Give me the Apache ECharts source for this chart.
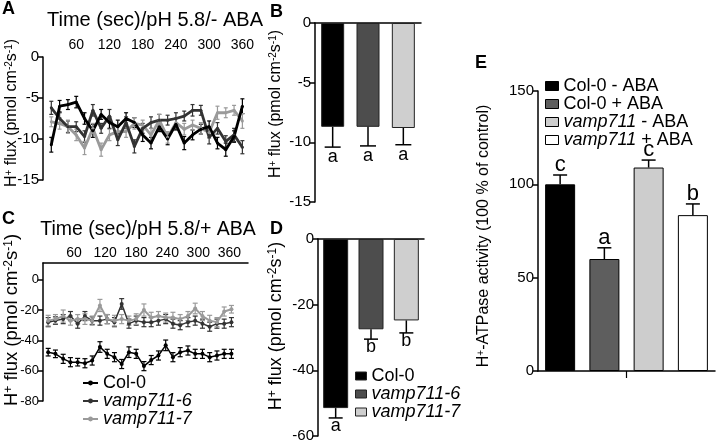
<!DOCTYPE html>
<html><head><meta charset="utf-8">
<script src="https://cdn.jsdelivr.net/npm/echarts@6/dist/echarts.min.js"></script>
<style>html,body{margin:0;padding:0;background:#fff}#c{width:717px;height:442px}</style>
</head><body><div id="c"></div>
<script>
// ---------------- DATA ----------------
const genotypes = ['Col-0', 'vamp711-6', 'vamp711-7'];
// Panel A: time course, pH 5.8 / - ABA
const timeA = [15,30,45,60,75,90,105,120,135,150,165,180,195,210,225,240,255,270,285,300,315,330,345,360];
const fluxA_col0 = [-10.7,-6.0,-5.8,-5.5,-7.5,-9.0,-7.0,-8.0,-8.5,-7.5,-8.0,-9.5,-10.5,-8.5,-10.0,-8.2,-10.5,-9.5,-8.8,-8.5,-10.5,-11.3,-9.7,-6.0];
const fluxA_v6   = [-6.2,-7.5,-8.5,-8.5,-9.7,-6.5,-8.7,-7.2,-10.1,-8.0,-10.9,-8.7,-8.0,-7.7,-7.7,-7.5,-7.2,-6.5,-6.5,-9.8,-8.7,-10.3,-9.5,-11.0];
const fluxA_v7   = [-7.9,-8.1,-8.5,-9.5,-11.1,-8.7,-11.3,-9.5,-9.1,-9.1,-8.1,-8.3,-9.5,-7.7,-9.8,-8.0,-8.8,-8.3,-8.7,-9.2,-6.8,-6.8,-6.5,-7.8];
const errA_col0  = [0.9,0.7,0.6,0.7,0.7,0.8,0.6,0.7,0.8,0.7,0.6,0.8,0.7,0.6,0.7,0.7,0.8,0.6,0.6,0.7,0.7,0.8,0.7,0.9];
const errA_v6    = [0.8,0.7,0.7,0.6,0.7,0.7,0.6,0.8,0.7,0.7,0.8,0.6,0.7,0.7,0.6,0.7,0.6,0.7,0.6,0.8,0.7,0.7,0.8,0.8];
const errA_v7    = [0.6,0.7,0.8,0.7,0.8,0.6,0.8,0.7,0.6,0.7,0.7,0.6,0.8,0.7,0.7,0.6,0.7,0.6,0.7,0.7,0.8,0.6,0.6,0.9];
// Panel B: mean flux - ABA
const fluxB = [-8.7, -8.7, -8.8];
const errB  = [1.7, 1.6, 1.4];
const lettersB = ['a', 'a', 'a'];
// Panel C: time course, pH 5.8 / + ABA
const timeC = [10,24,39,53,67,81,95,110,124,138,152,166,180,195,209,223,237,251,265,280,294,308,322,336,350,364];
const fluxC_col0 = [-47.8,-48.9,-52.2,-54.4,-54.4,-55.1,-53.3,-44.4,-48.9,-51.1,-55.6,-47.8,-48.9,-57.0,-53.0,-50.0,-43.3,-51.1,-47.8,-46.7,-48.9,-48.9,-51.1,-50.0,-48.9,-48.9];
const fluxC_v6   = [-28,-27,-26,-24,-29,-24,-27,-27,-26,-28,-16,-29,-27,-28,-28,-27,-26,-29,-30,-28,-27,-29,-31,-29,-29,-28];
const fluxC_v7   = [-27,-26,-24,-27,-26,-26,-27,-17,-26,-27,-26,-27,-26,-20,-25,-24,-25,-25,-26,-24,-19,-24,-27,-28,-21,-19.5];
const errC_col0  = [2.5,2.5,3,3,2.5,3,3,3.5,3,3,3,3.5,3,3,3,3,3.5,3,3,3,3,3,3,3,3,3];
const errC_v6    = [3,2.5,3,3,3,3,2.5,3,3,3,3.5,3,3,3,3,3,3,3,3,3,3,3,3,3,3,3];
const errC_v7    = [3.5,3,4,3,3,3.5,3,4,3,3.5,3,3,3.5,4,3.5,3,3,3.5,3,3,3.5,3,3.5,3,3,2.5];
// Panel D: mean flux + ABA
const fluxD = [-51.5, -27.5, -24.8];
const errD  = [3.0, 3.0, 3.8];
const lettersD = ['a', 'b', 'b'];
// Panel E: H+-ATPase activity
const treatmentsE = ['Col-0 - ABA', 'Col-0 + ABA', 'vamp711 - ABA', 'vamp711 + ABA'];
const activityE = [100, 60, 109, 83.5];
const errE = [5, 6, 4, 6];
const lettersE = ['c', 'a', 'c', 'b'];
// tick labels
const ticksTime = [60, 120, 180, 240, 300, 360];
const ticksA = [0, -5, -10, -15];
const ticksC = [0, -20, -40, -60, -80];
const ticksD = [0, -20, -40, -60];
const ticksE = [0, 50, 100, 150];

// ---------------- STYLE ----------------
const FONT = '"Liberation Sans", Arial, Helvetica, sans-serif';
const INK = '#000';
const lineColors = ['#000000', '#333333', '#9a9a9a'];
const barColorsBD = ['#000000', '#4d4d4d', '#cfcfcf'];
const barColorsE = ['#000000', '#5e5e5e', '#cdcdcd', '#ffffff'];

const fluxName = '{n|H}{s|+}{n| flux (pmol cm}{s|-2}{n|s}{s|-1}{n|)}';
const atpName = '{n|H}{s|+}{n|-ATPase activity (100 % of control)}';
function axisTitle(text, x, y, size) {
  return {
    type: 'text', x, y, rotation: Math.PI / 2,
    style: {
      text, textAlign: 'center', textVerticalAlign: 'middle', fill: INK,
      font: size + 'px ' + FONT,
      rich: {
        n: { fill: INK, fontFamily: FONT, fontSize: size },
        s: { fill: INK, fontFamily: FONT, fontSize: Math.round(size * 0.65), verticalAlign: 'top' }
      }
    }
  };
}

function valueY(gridIndex, min, max, interval, ticks, fs) {
  return {
    type: 'value', gridIndex, min, max, interval,
    axisLine: { show: true, lineStyle: { color: INK, width: 1.5 } },
    axisTick: { show: true, length: 5, lineStyle: { color: INK, width: 1.5 }, customValues: ticks },
    axisLabel: { color: INK, fontFamily: FONT, fontSize: fs, margin: 4, customValues: ticks,
      formatter: v => ticks.indexOf(v) >= 0 ? String(v) : '' },
    splitLine: { show: false }
  };
}

function lineSeries(name, times, vals, color, axis, width, sym) {
  return {
    type: 'line', name, xAxisIndex: axis, yAxisIndex: axis, z: 4,
    data: times.map((t, i) => [t, vals[i]]),
    lineStyle: { color, width }, itemStyle: { color },
    symbol: 'circle', symbolSize: sym, showSymbol: true, silent: true
  };
}
function lineErr(name, times, vals, errs, color, axis, cap) {
  return {
    type: 'custom', name, xAxisIndex: axis, yAxisIndex: axis, z: 3, silent: true,
    data: times.map((t, i) => [t, vals[i] - errs[i], vals[i] + errs[i]]),
    renderItem(params, api) {
      const lo = api.coord([api.value(0), api.value(1)]);
      const hi = api.coord([api.value(0), api.value(2)]);
      const st = { stroke: color, lineWidth: 1.2 };
      return { type: 'group', children: [
        { type: 'line', shape: { x1: lo[0], y1: lo[1], x2: hi[0], y2: hi[1] }, style: st },
        { type: 'line', shape: { x1: lo[0] - cap, y1: lo[1], x2: lo[0] + cap, y2: lo[1] }, style: st },
        { type: 'line', shape: { x1: hi[0] - cap, y1: hi[1], x2: hi[0] + cap, y2: hi[1] }, style: st }
      ]};
    }
  };
}
function barSeries(names, vals, colors, axis, width, border) {
  return names.map((n, i) => ({
    type: 'bar', name: n, xAxisIndex: axis, yAxisIndex: axis, barWidth: width, barGap: '-100%', z: 2,
    data: vals.map((v, j) => j === i ? v : '-'),
    itemStyle: { color: colors[i], borderColor: border, borderWidth: 1 }, silent: true
  }));
}
function barErr(vals, errs, letters, axis, dir, cap, fs, letterGap, vAlign) {
  return {
    type: 'custom', xAxisIndex: axis, yAxisIndex: axis, z: 5, silent: true,
    data: vals.map((v, i) => [i, v, v + dir * errs[i]]),
    renderItem(params, api) {
      const p0 = api.coord([api.value(0), api.value(1)]);
      const p1 = api.coord([api.value(0), api.value(2)]);
      const st = { stroke: INK, lineWidth: 1.5 };
      return { type: 'group', children: [
        { type: 'line', shape: { x1: p0[0], y1: p0[1], x2: p1[0], y2: p1[1] }, style: st },
        { type: 'line', shape: { x1: p1[0] - cap, y1: p1[1], x2: p1[0] + cap, y2: p1[1] }, style: st },
        { type: 'text', x: p1[0], y: p1[1] + letterGap,
          style: { text: letters[params.dataIndex], fill: INK, font: fs + 'px ' + FONT,
                   textAlign: 'center', textVerticalAlign: vAlign } }
      ]};
    }
  };
}
const italicFmt = n => n.replace(/vamp711(-\d)?/, m => '{i|' + m + '}');
function legendText(size, lh) {
  return { color: INK, fontFamily: FONT, fontSize: size, lineHeight: lh,
    rich: { i: { color: INK, fontFamily: FONT, fontSize: size, lineHeight: lh, fontStyle: 'italic' } } };
}

// ---------------- OPTION ----------------
const option = {
  animation: false,
  backgroundColor: '#fff',
  textStyle: { fontFamily: FONT, color: INK },
  grid: [
    { left: 43, top: 57, width: 216, height: 123, outerBoundsMode: 'none' },   // A
    { left: 315, top: 23, width: 106, height: 179, outerBoundsMode: 'none' },  // B
    { left: 43, top: 263, width: 205, height: 138, outerBoundsMode: 'none' },  // C
    { left: 318, top: 239, width: 106, height: 197, outerBoundsMode: 'none' }, // D
    { left: 538, top: 91, width: 177, height: 280, outerBoundsMode: 'none' }   // E
  ],
  xAxis: [
    { type: 'value', gridIndex: 0, position: 'top', min: 0, max: 390, interval: 60,
      axisLine: { show: false }, axisTick: { show: false }, splitLine: { show: false },
      axisLabel: { color: INK, fontFamily: FONT, fontSize: 14, margin: 5, customValues: ticksTime,
        formatter: v => ticksTime.indexOf(v) >= 0 ? String(v) : '' } },
    { type: 'category', gridIndex: 1, position: 'top', data: genotypes,
      axisLine: { show: true, onZero: false, lineStyle: { color: INK, width: 1.5 } },
      axisTick: { show: false }, axisLabel: { show: false } },
    { type: 'value', gridIndex: 2, position: 'top', min: 0, max: 396, interval: 60,
      axisLine: { show: true, onZero: false, lineStyle: { color: INK, width: 1.5 } },
      axisTick: { show: false }, splitLine: { show: false },
      axisLabel: { color: INK, fontFamily: FONT, fontSize: 14, margin: 3, customValues: ticksTime,
        formatter: v => ticksTime.indexOf(v) >= 0 ? String(v) : '' } },
    { type: 'category', gridIndex: 3, position: 'top', data: genotypes,
      axisLine: { show: true, onZero: false, lineStyle: { color: INK, width: 1.5 } },
      axisTick: { show: false }, axisLabel: { show: false } },
    { type: 'category', gridIndex: 4, position: 'bottom', data: treatmentsE,
      axisLine: { show: true, onZero: false, lineStyle: { color: INK, width: 1.5 } },
      axisTick: { show: false }, axisLabel: { show: false } },
    { type: 'category', gridIndex: 4, position: 'bottom', data: ['H+-ATPase'],
      axisLine: { show: false }, axisLabel: { show: false },
      axisTick: { show: true, alignWithLabel: true, length: 7, lineStyle: { color: INK, width: 1.2 } } }
  ],
  yAxis: [
    valueY(0, -15, 0, 5, ticksA, 15),
    valueY(1, -15, 0, 5, ticksA, 15),
    valueY(2, -80, 11, 20, ticksC, 13),
    valueY(3, -60, 0, 20, ticksD, 15),
    valueY(4, 0, 150, 50, ticksE, 15)
  ],
  legend: [
    { left: 82, top: 374, orient: 'vertical', itemWidth: 15, itemHeight: 6, itemGap: 0, padding: 0,
      selectedMode: false, data: genotypes, textStyle: legendText(18, 15), formatter: italicFmt },
    { left: 355, top: 367, orient: 'vertical', itemWidth: 11, itemHeight: 8, itemGap: 0, padding: 0,
      selectedMode: false, textStyle: legendText(18, 16.5), formatter: italicFmt,
      data: genotypes.map((n, i) => ({ name: n, icon: 'rect',
        itemStyle: { color: barColorsBD[i], borderColor: '#222', borderWidth: 1 } })) },
    { left: 545, top: 77, orient: 'vertical', itemWidth: 13, itemHeight: 9, itemGap: 0, padding: 0,
      selectedMode: false, textStyle: legendText(18, 15.7), formatter: italicFmt,
      data: treatmentsE.map((n, i) => ({ name: n, icon: 'rect',
        itemStyle: { color: barColorsE[i], borderColor: '#000', borderWidth: 1 } })) }
  ],
  series: [
    // C lines first (legend C inherits their icons)
    lineSeries('Col-0', timeC, fluxC_col0, lineColors[0], 2, 1.5, 4),
    lineSeries('vamp711-6', timeC, fluxC_v6, lineColors[1], 2, 1.5, 4),
    lineSeries('vamp711-7', timeC, fluxC_v7, lineColors[2], 2, 2, 4),
    lineErr('Col-0', timeC, fluxC_col0, errC_col0, lineColors[0], 2, 2.5),
    lineErr('vamp711-6', timeC, fluxC_v6, errC_v6, lineColors[1], 2, 2.5),
    lineErr('vamp711-7', timeC, fluxC_v7, errC_v7, lineColors[2], 2, 2.5),
    // A lines
    lineSeries('vamp711-7', timeA, fluxA_v7, lineColors[2], 0, 2.8, 3),
    lineSeries('vamp711-6', timeA, fluxA_v6, lineColors[1], 0, 2.8, 3),
    lineSeries('Col-0', timeA, fluxA_col0, lineColors[0], 0, 2.8, 3),
    lineErr('Col-0', timeA, fluxA_col0, errA_col0, lineColors[0], 0, 2),
    lineErr('vamp711-6', timeA, fluxA_v6, errA_v6, lineColors[1], 0, 2),
    lineErr('vamp711-7', timeA, fluxA_v7, errA_v7, lineColors[2], 0, 2),
    // B bars
    ...barSeries(genotypes, fluxB, barColorsBD, 1, 23, '#222'),
    barErr(fluxB, errB, lettersB, 1, -1, 8, 18, 1, 'top'),
    // D bars
    ...barSeries(genotypes, fluxD, barColorsBD, 3, 25, '#222'),
    barErr(fluxD, errD, lettersD, 3, -1, 7, 18, -1, 'top'),
    // E bars
    ...barSeries(treatmentsE, activityE, barColorsE, 4, 30, '#000'),
    barErr(activityE, errE, lettersE, 4, 1, 7, 22, 1, 'bottom')
  ],
  graphic: [
    { type: 'text', x: 2, y: 9, style: { text: 'A', font: 'bold 18px ' + FONT, fill: INK, textVerticalAlign: 'middle' } },
    { type: 'text', x: 270, y: 12, style: { text: 'B', font: 'bold 18px ' + FONT, fill: INK, textVerticalAlign: 'middle' } },
    { type: 'text', x: 2, y: 219, style: { text: 'C', font: 'bold 18px ' + FONT, fill: INK, textVerticalAlign: 'middle' } },
    { type: 'text', x: 270, y: 229, style: { text: 'D', font: 'bold 18px ' + FONT, fill: INK, textVerticalAlign: 'middle' } },
    { type: 'text', x: 475, y: 63, style: { text: 'E', font: 'bold 18px ' + FONT, fill: INK, textVerticalAlign: 'middle' } },
    { type: 'text', x: 155, y: 20, style: { text: 'Time (sec)/pH 5.8/- ABA', font: '20px ' + FONT, fill: INK, textAlign: 'center', textVerticalAlign: 'middle' } },
    { type: 'text', x: 148, y: 230, style: { text: 'Time (sec)/pH 5.8/+ ABA', font: '19.5px ' + FONT, fill: INK, textAlign: 'center', textVerticalAlign: 'middle' } },
    axisTitle(fluxName, 12, 113, 16),
    axisTitle(fluxName, 276, 104, 16),
    axisTitle(fluxName, 12, 320, 18.5),
    axisTitle(fluxName, 276, 326, 18),
    axisTitle(atpName, 484, 236, 16)
  ]
};

const chart = echarts.init(document.getElementById('c'), null, { renderer: 'canvas' });
chart.setOption(option);
</script>
</body></html>
